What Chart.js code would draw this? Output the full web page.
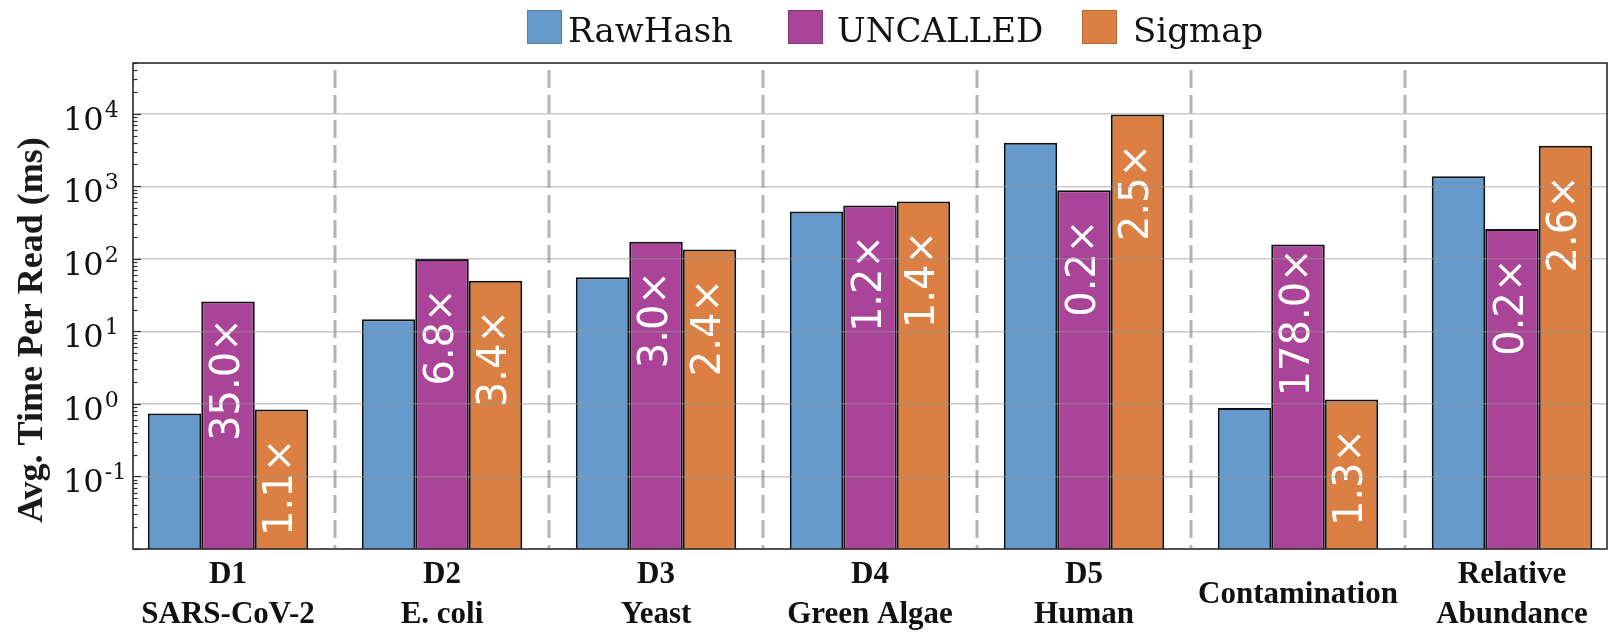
<!DOCTYPE html>
<html>
<head>
<meta charset="utf-8">
<script src="https://cdn.jsdelivr.net/npm/chart.js@4.4.1/dist/chart.umd.min.js"></script>
<style>
  body { margin: 0; background: #fff; }
  #wrap { position: relative; width: 1610px; height: 634px; }
  .leg-box { position: absolute; top: 10px; width: 35px; height: 34px; box-sizing: border-box; border: 1.5px solid rgba(0,0,0,0.18); }
  .leg-txt { position: absolute; top: 11px; font: 34px "DejaVu Serif", serif; line-height: 38px; color: #111; white-space: nowrap; }
</style>
</head>
<body>
<div id="wrap">
  <canvas id="grafico" width="1610" height="634"></canvas>
</div>
<script>
// categories (x tick labels, one array entry per line)
const categorias = [
  ["D1", "SARS-CoV-2"],
  ["D2", "E. coli"],
  ["D3", "Yeast"],
  ["D4", "Green Algae"],
  ["D5", "Human"],
  "Contamination",
  ["Relative", "Abundance"],
];

const series = ["RawHash", "UNCALLED", "Sigmap"];
const colores = ["#6699cc", "#aa4498", "#db7f43"];

// avg. time per read (ms)
const rawhash = [0.74, 14.7, 55.6, 448, 3970, 0.88, 1372];
const uncalled = [25.7, 99.4, 172, 542, 881, 158, 257];
const sigmap = [0.84, 50, 134, 615, 9770, 1.15, 3610];

// speedup labels printed inside the bars
const ratioUncalled = [35.0, 6.8, 3.0, 1.2, 0.2, 178.0, 0.2];
const ratioSigmap = [1.1, 3.4, 2.4, 1.4, 2.5, 1.3, 2.6];

// y tick labels: base and exponent
const yTickValues = [0.1, 1, 10, 100, 1000, 10000];
const yTickExp = ["-1", "0", "1", "2", "3", "4"];
const yTitle = "Avg. Time Per Read (ms)";

const valores = [rawhash, uncalled, sigmap];
const ratios = [null, ratioUncalled, ratioSigmap];

// legend (html, absolute positions)
const legendBoxX = [527, 788, 1082];
const legendTxtX = [568, 837, 1133];
const wrap = document.getElementById("wrap");
series.forEach((nombre, s) => {
  const b = document.createElement("div");
  b.className = "leg-box";
  b.style.left = legendBoxX[s] + "px";
  b.style.background = colores[s];
  wrap.appendChild(b);
  const t = document.createElement("div");
  t.className = "leg-txt";
  t.style.left = legendTxtX[s] + "px";
  t.textContent = nombre;
  wrap.appendChild(t);
});

const extras = {
  id: "extras",
  beforeDatasetsDraw(chart) {
    const { ctx, chartArea: a, scales: { x } } = chart;
    ctx.save();
    ctx.strokeStyle = "#b4b4b4";
    ctx.lineWidth = 3;
    ctx.setLineDash([18, 7]);
    for (let i = 0; i < categorias.length - 1; i++) {
      const px = Math.round(x.getPixelForValue(i + 0.5));
      ctx.beginPath();
      ctx.moveTo(px, a.top + 7);
      ctx.lineTo(px, a.bottom);
      ctx.stroke();
    }
    ctx.restore();
  },
  afterDatasetsDraw(chart) {
    const ctx = chart.ctx;
    const fs = 40;
    ctx.save();
    ctx.fillStyle = "#ffffff";
    ctx.font = fs + 'px "DejaVu Sans"';
    ctx.textAlign = "center";
    ctx.textBaseline = "alphabetic";
    [1, 2].forEach((d) => {
      chart.getDatasetMeta(d).data.forEach((bar, i) => {
        const txt = ratios[d][i].toFixed(1) + "×";
        ctx.save();
        ctx.translate(bar.x - 4 + 0.365 * fs, bar.y + 78);
        ctx.rotate(-Math.PI / 2);
        ctx.fillText(txt, 0, 0);
        ctx.restore();
      });
    });
    ctx.restore();
  },
  afterDraw(chart) {
    const { ctx, chartArea: a, scales: { y } } = chart;
    ctx.save();
    // ticks inside the left axis
    ctx.strokeStyle = "#333";
    ctx.lineWidth = 1.2;
    y.ticks.forEach((t) => {
      const py = Math.round(y.getPixelForValue(t.value)) + 0.5;
      const len = t.major ? 8 : 4.5;
      ctx.beginPath();
      ctx.moveTo(a.left, py);
      ctx.lineTo(a.left + len, py);
      ctx.stroke();
    });
    // frame
    ctx.lineWidth = 1.6;
    ctx.strokeStyle = "#2a2a2a";
    ctx.strokeRect(a.left, a.top, a.right - a.left, a.bottom - a.top);
    // y tick labels 10^n
    ctx.fillStyle = "#111";
    ctx.textAlign = "left";
    ctx.textBaseline = "alphabetic";
    yTickValues.forEach((v, k) => {
      const base = y.getPixelForValue(v) + 16;
      ctx.font = '32px "DejaVu Serif"';
      ctx.fillText("10", 63, base);
      const w = ctx.measureText("10").width;
      ctx.font = '22px "DejaVu Serif"';
      ctx.fillText(yTickExp[k], 63 + w + 1, base - 13);
    });
    // y title
    ctx.fillStyle = "#1a1a1a";
    ctx.font = 'bold 36px "Liberation Serif"';
    ctx.textAlign = "center";
    ctx.translate(42, 330);
    ctx.rotate(-Math.PI / 2);
    ctx.fillText(yTitle, 0, 0);
    ctx.restore();
  },
};

const ctx = document.getElementById("grafico").getContext("2d");
new Chart(ctx, {
  type: "bar",
  data: {
    datasets: series.map((nombre, s) => ({
      label: nombre,
      data: valores[s].map((v, i) => ({ x: i, y: v })),
      backgroundColor: colores[s],
      borderColor: "#111",
      borderWidth: 2,
      categoryPercentage: 0.75,
      barPercentage: 1,
    })),
  },
  options: {
    responsive: false,
    animation: false,
    layout: { padding: { top: 63, right: 3, left: 0, bottom: 0 } },
    plugins: { legend: { display: false }, tooltip: { enabled: false } },
    scales: {
      x: {
        type: "linear",
        min: -0.444,
        max: 6.444,
        offset: false,
        grid: { display: false },
        border: { display: false },
        afterBuildTicks: (ax) => {
          ax.ticks = categorias.map((_, i) => ({ value: i }));
        },
        afterFit: (ax) => {
          ax.height = 85;
        },
        ticks: {
          autoSkip: false,
          maxRotation: 0,
          minRotation: 0,
          crossAlign: "center",
          padding: 18,
          color: "#111",
          font: { family: "Liberation Serif", weight: "bold", size: 31, lineHeight: 1.3 },
          callback: (v) => categorias[v],
        },
      },
      y: {
        type: "logarithmic",
        min: 0.01,
        max: 50000,
        afterBuildTicks: (ax) => {
          const t = [];
          for (let e = -2; e <= 4; e++) {
            for (let m = 1; m <= 9; m++) {
              const v = m * Math.pow(10, e);
              if (v <= 50000) t.push({ value: v, major: m === 1 });
            }
          }
          ax.ticks = t;
        },
        afterFit: (ax) => {
          ax.width = 133;
        },
        grid: {
          z: 1,
          drawTicks: false,
          lineWidth: 1.5,
          color: (c) =>
            c.tick && c.tick.major && c.tick.value > 0.02 ? "rgba(150,150,150,0.5)" : "rgba(0,0,0,0)",
        },
        border: { display: false },
        ticks: { display: false, autoSkip: false },
      },
    },
  },
  plugins: [extras],
});
</script>
</body>
</html>
